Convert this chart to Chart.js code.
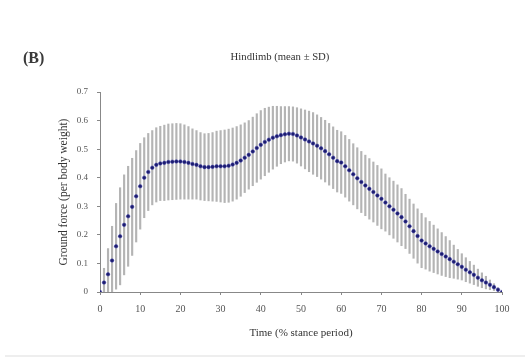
<!DOCTYPE html>
<html>
<head>
<meta charset="utf-8">
<script src="https://cdn.jsdelivr.net/npm/chart.js@4.4.1/dist/chart.umd.min.js"></script>
<style>
  body { margin: 0; background: #fff; }
  #wrap { position: relative; width: 525px; height: 360px; overflow: hidden; }
  .lbl { position: absolute; font-family: "Liberation Serif", serif; color: #333; white-space: nowrap; }
  #panel { left: 23px; top: 49px; font-size: 16px; font-weight: bold; color: #3a3a3a; }
  #titulo { left: 280px; top: 50px; font-size: 10.7px; transform: translateX(-50%); }
  #rodape { position: absolute; left: 5px; right: 0; top: 355px; height: 2px; background: #eeeeee; }
</style>
</head>
<body>
<div id="wrap">
  <canvas id="grafico" width="525" height="360"></canvas>
  <div class="lbl" id="panel">(B)</div>
  <div class="lbl" id="titulo">Hindlimb (mean ± SD)</div>
  <div id="rodape"></div>
</div>
<script>
// % of stance period, 0..100 in steps of 1
var tempo = [
  0, 1, 2, 3, 4, 5, 6, 7, 8, 9, 10, 11, 12, 13, 14, 15, 16, 17, 18, 19,
  20, 21, 22, 23, 24, 25, 26, 27, 28, 29, 30, 31, 32, 33, 34, 35, 36, 37, 38, 39,
  40, 41, 42, 43, 44, 45, 46, 47, 48, 49, 50, 51, 52, 53, 54, 55, 56, 57, 58, 59,
  60, 61, 62, 63, 64, 65, 66, 67, 68, 69, 70, 71, 72, 73, 74, 75, 76, 77, 78, 79,
  80, 81, 82, 83, 84, 85, 86, 87, 88, 89, 90, 91, 92, 93, 94, 95, 96, 97, 98, 99, 100
];

// mean ground force (per body weight)
var media = [
  0, 0.033, 0.062, 0.11, 0.16, 0.195, 0.235, 0.265, 0.298, 0.335,
  0.37, 0.40, 0.42, 0.435, 0.445, 0.45, 0.452, 0.455, 0.456, 0.457,
  0.457, 0.455, 0.452, 0.448, 0.445, 0.44, 0.437, 0.437, 0.438, 0.44,
  0.44, 0.44, 0.442, 0.446, 0.452, 0.46, 0.47, 0.48, 0.492, 0.504,
  0.515, 0.525, 0.533, 0.54, 0.545, 0.549, 0.552, 0.554, 0.553, 0.548,
  0.541, 0.534, 0.527, 0.52, 0.512, 0.503, 0.493, 0.482, 0.47, 0.458,
  0.453, 0.44, 0.426, 0.412, 0.398, 0.385, 0.373, 0.361, 0.35, 0.338,
  0.326, 0.313, 0.3, 0.288, 0.275, 0.262, 0.247, 0.23, 0.213, 0.196,
  0.18, 0.17, 0.16, 0.151, 0.142, 0.133, 0.124, 0.115, 0.106, 0.097,
  0.088, 0.078, 0.069, 0.06, 0.05, 0.041, 0.033, 0.025, 0.017, 0.008, 0
];

// standard deviation
var desvio = [
  0, 0.05, 0.09, 0.12, 0.15, 0.17, 0.175, 0.175, 0.17, 0.16,
  0.15, 0.14, 0.135, 0.13, 0.13, 0.13, 0.132, 0.133, 0.133, 0.133,
  0.132, 0.13, 0.127, 0.123, 0.12, 0.118, 0.117, 0.118, 0.12, 0.123,
  0.125, 0.127, 0.128, 0.128, 0.127, 0.125, 0.122, 0.12, 0.12, 0.12,
  0.12, 0.118, 0.114, 0.11, 0.105, 0.1, 0.097, 0.095, 0.095, 0.097,
  0.1, 0.103, 0.106, 0.108, 0.108, 0.108, 0.108, 0.108, 0.108, 0.108,
  0.108, 0.108, 0.108, 0.107, 0.107, 0.107, 0.106, 0.106, 0.105, 0.105,
  0.105, 0.1, 0.1, 0.1, 0.1, 0.1, 0.095, 0.095, 0.095, 0.095,
  0.095, 0.09, 0.087, 0.083, 0.079, 0.075, 0.07, 0.065, 0.058, 0.052,
  0.046, 0.042, 0.038, 0.034, 0.03, 0.026, 0.022, 0.017, 0.012, 0.007, 0
];

var xTickLabels = ["0", "10", "20", "30", "40", "50", "60", "70", "80", "90", "100"];
var yTickLabels = ["0", "0.1", "0.2", "0.3", "0.4", "0.5", "0.6", "0.7"];

var fonteSerif = "Liberation Serif";

var pontos = tempo.map((t, i) => ({ x: t, y: media[i] }));
var barras = tempo.map((t, i) => ({ x: t, y: [media[i] - desvio[i], media[i] + desvio[i]] }));

new Chart(document.getElementById("grafico"), {
  type: "scatter",
  data: {
    datasets: [
      {
        type: "scatter",
        label: "mean",
        data: pontos,
        backgroundColor: "#1c1c6e",
        borderColor: "#3c3ca8",
        borderWidth: 0.5,
        pointRadius: 1.8,
        order: 0,
      },
      {
        type: "bar",
        label: "SD",
        data: barras,
        backgroundColor: "#b4b4b4",
        barThickness: 1.5,
        order: 1,
      },
    ],
  },
  options: {
    responsive: false,
    animation: false,
    layout: { padding: { left: 53, right: 23, top: 92, bottom: 20 } },
    plugins: { legend: { display: false }, tooltip: { enabled: false } },
    scales: {
      x: {
        type: "linear",
        min: 0,
        max: 100,
        offset: false,
        afterFit: scale => { scale.height = 48; },
        ticks: {
          stepSize: 10,
          font: { family: fonteSerif, size: 10 },
          color: "#555",
          padding: 8,
          maxRotation: 0,
          callback: (v, i) => xTickLabels[i],
        },
        grid: { display: true, drawOnChartArea: false, offset: false, tickLength: 3, color: "#888" },
        border: { color: "#888" },
        title: {
          display: true,
          text: "Time (% stance period)",
          font: { family: fonteSerif, size: 11 },
          color: "#333",
          padding: { top: 4, bottom: 0 },
        },
      },
      y: {
        min: 0,
        max: 0.7,
        afterFit: scale => { scale.width = 47; },
        ticks: {
          stepSize: 0.1,
          font: { family: fonteSerif, size: 9 },
          color: "#555",
          padding: 9,
          callback: (v, i) => yTickLabels[i],
        },
        grid: { display: true, drawOnChartArea: false, tickLength: 3, color: "#888" },
        border: { color: "#888" },
        title: { display: true, text: "Ground force (per body weight)", font: { family: fonteSerif, size: 11.5 }, color: "#333" },
      },
    },
  },
});
</script>
</body>
</html>
